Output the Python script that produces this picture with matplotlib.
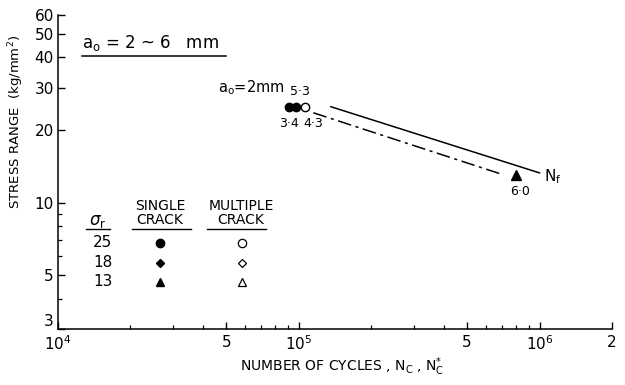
import matplotlib
matplotlib.use("Agg")
import matplotlib.pyplot as plt
from matplotlib.lines import Line2D
from matplotlib.ticker import FixedLocator, FixedFormatter, NullFormatter

plt.rcParams['font.family'] = ['DejaVu Sans']
plt.rcParams['mathtext.fontset'] = 'dejavusans'

# test results at stress range 25 and 13 kg/mm2
single_n = [9.1e4, 9.7e4]
single_s = [25, 25]
single_lbl = ["3·4", "5·3"]
multi_n = [1.06e5]
multi_s = [25]
multi_lbl = ["4·3"]
tri_n = [8.0e5]
tri_s = [13]
tri_lbl = ["6·0"]

# fatigue life curves
nf_n = [1.36e5, 1.0e6]
nf_s = [25.0, 13.3]
nc_n = [1.15e5, 7.1e5]
nc_s = [23.6, 13.05]

# legend table
sigma_r = ["25", "18", "13"]
single_mk = ['o', 'D', '^']
multi_mk = ['o', 'D', '^']

xmajor = [1e4, 5e4, 1e5, 5e5, 1e6, 2e6]
xmajor_lbl = [r"$10^4$", "5", r"$10^5$", "5", r"$10^6$", "2"]
xminor = [2e4, 3e4, 4e4, 6e4, 7e4, 8e4, 9e4,
          2e5, 3e5, 4e5, 6e5, 7e5, 8e5, 9e5]
ymajor = [3, 5, 10, 20, 30, 40, 50, 60]
yminor = [4, 6, 7, 8, 9]

fig = plt.figure(figsize=(6.25, 3.85), dpi=100)
ax = fig.add_axes([0.0928, 0.1455, 0.8864, 0.8156])
ax.set_xscale('log')
ax.set_yscale('log')
ax.set_xlim(1e4, 2e6)
ax.set_ylim(3, 60)

for s in ['top', 'right']:
    ax.spines[s].set_visible(False)
for s in ['left', 'bottom']:
    ax.spines[s].set_linewidth(1.1)

ax.xaxis.set_major_locator(FixedLocator(xmajor))
ax.xaxis.set_major_formatter(FixedFormatter(xmajor_lbl))
ax.xaxis.set_minor_locator(FixedLocator(xminor))
ax.xaxis.set_minor_formatter(NullFormatter())
ax.yaxis.set_major_locator(FixedLocator(ymajor))
ax.yaxis.set_major_formatter(FixedFormatter([str(v) for v in ymajor]))
ax.yaxis.set_minor_locator(FixedLocator(yminor))
ax.yaxis.set_minor_formatter(NullFormatter())
ax.tick_params(which='major', direction='in', length=5, width=1.0, labelsize=11, pad=3)
ax.tick_params(which='minor', direction='in', length=3, width=0.9)
ax.tick_params(axis='x', which='major', pad=4)
# lift the bottom "3" a little so it clears the 10^4 label
ax.get_yticklabels()[0].set_va('bottom')

# curves
ax.plot(nf_n, nf_s, color='black', lw=1.1)
ax.plot(nc_n, nc_s, color='black', lw=1.1, dashes=[9, 3, 2, 3])

# data points
ax.plot(single_n, single_s, 'o', color='black', ms=6)
ax.plot(multi_n, multi_s, 'o', mfc='white', mec='black', mew=1.0, ms=6)
ax.plot(tri_n, tri_s, '^', color='black', ms=6.5)

offs = [(0, -12), (3, 11)]
for n, s, t, o in zip(single_n, single_s, single_lbl, offs):
    ax.annotate(t, (n, s), xytext=o, textcoords='offset points',
                ha='center', va='center', fontsize=9)
for n, s, t in zip(multi_n, multi_s, multi_lbl):
    ax.annotate(t, (n, s), xytext=(6, -12), textcoords='offset points',
                ha='center', va='center', fontsize=9)
for n, s, t in zip(tri_n, tri_s, tri_lbl):
    ax.annotate(t, (n, s), xytext=(3, -12), textcoords='offset points',
                ha='center', va='center', fontsize=9)
ax.annotate(r"N$_\mathrm{f}$", (nf_n[-1], nf_s[-1]), xytext=(3, -3),
            textcoords='offset points', ha='left', va='center', fontsize=11)


def ax_xy(px, py):
    return (px - 58) / 554.0, (329 - py) / 314.0


x, y = ax_xy(284, 88)
ax.text(x, y, r"$\mathrm{a_o}$=2mm", transform=ax.transAxes,
        fontsize=10.5, ha='right', va='center')

# crack depth range note
x, y = ax_xy(82, 43)
ax.text(x, y, r"$\mathrm{a_o}$ = 2 ~ 6   mm", transform=ax.transAxes,
        fontsize=12, ha='left', va='center')
xa, yl = ax_xy(82, 56)
xb, _ = ax_xy(226, 56)
ax.add_line(Line2D([xa, xb], [yl, yl], transform=ax.transAxes,
                   color='black', lw=1.1))

# legend table
x0, y0 = ax_xy(98, 221)
ax.text(x0, y0, r"$\sigma_\mathrm{r}$", transform=ax.transAxes,
        fontsize=12, ha='center', va='center')
for txt, cx in [("SINGLE\nCRACK", 160), ("MULTIPLE\nCRACK", 241)]:
    x, y = ax_xy(cx, 213)
    ax.text(x, y, txt, transform=ax.transAxes, fontsize=10,
            ha='center', va='center', linespacing=0.95)
for a, b in [(86, 110), (132, 191), (207, 266)]:
    xa, yl = ax_xy(a, 229)
    xb, _ = ax_xy(b, 229)
    ax.add_line(Line2D([xa, xb], [yl, yl], transform=ax.transAxes,
                       color='black', lw=1.0))

rows_y = [243, 263, 282]
for sr, mk1, mk2, py in zip(sigma_r, single_mk, multi_mk, rows_y):
    x, y = ax_xy(103, py)
    ax.text(x, y, sr, transform=ax.transAxes, fontsize=11,
            ha='center', va='center')
    x1, _ = ax_xy(160, py)
    x2, _ = ax_xy(242, py)
    ms = 4.5 if mk1 == 'D' else 6
    ax.plot([x1], [y], marker=mk1, color='black', ms=ms,
            transform=ax.transAxes, clip_on=False)
    ax.plot([x2], [y], marker=mk2, mfc='white', mec='black', mew=0.9,
            ms=ms, transform=ax.transAxes, clip_on=False)

# axis titles
fig.text(16 / 625, 1 - 122 / 385, "STRESS RANGE  (kg/mm$^2$)", fontsize=9.5,
         rotation=90, ha='center', va='center')
fig.text(342 / 625, 1 - 367 / 385,
         r"NUMBER OF CYCLES , N$_\mathrm{C}$ , N$_\mathrm{C}^{*}$",
         fontsize=10, ha='center', va='center')

fig.savefig("out.png", dpi=100)
